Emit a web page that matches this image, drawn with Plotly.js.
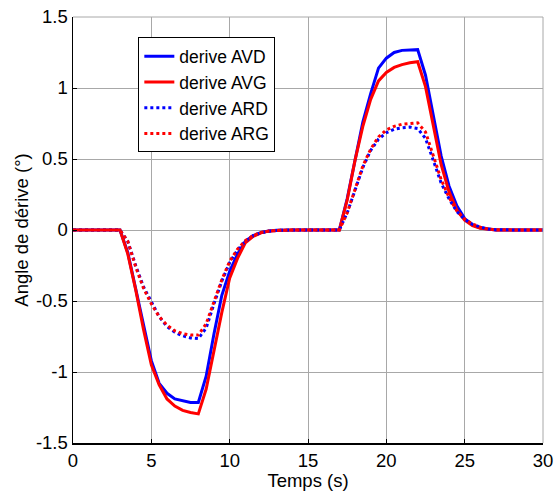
<!DOCTYPE html>
<html>
<head>
<meta charset="utf-8">
<script src="https://cdn.plot.ly/plotly-3.0.1.min.js"></script>
<style>html,body{margin:0;padding:0;background:#fff;}#chart{width:560px;height:491px;}</style>
</head>
<body>
<div id="chart"></div>
<script>
// Time (s), step 0.5 from 0 to 30
const t = [0,0.5,1,1.5,2,2.5,3,3.5,4,4.5,5,5.5,6,6.5,7,7.5,8,8.5,9,9.5,10,10.5,11,11.5,12,12.5,13,13.5,14,14.5,15,15.5,16,16.5,17,17.5,18,18.5,19,19.5,20,20.5,21,21.5,22,22.5,23,23.5,24,24.5,25,25.5,26,26.5,27,27.5,28,28.5,29,29.5,30];

const deriveAVD = [0,0,0,0,0,0,0,-0.16,-0.41,-0.68,-0.92,-1.08,-1.15,-1.19,-1.205,-1.215,-1.215,-1.03,-0.73,-0.46,-0.29,-0.17,-0.08,-0.04,-0.018,-0.007,-0.002,0,0,0,0,0,0,0,0,0.22,0.50,0.76,0.96,1.14,1.21,1.25,1.265,1.27,1.27,1.09,0.80,0.52,0.31,0.17,0.08,0.035,0.014,0.005,0,0,0,0,0,0,0];

const deriveAVG = [0,0,0,0,0,0,0,-0.17,-0.42,-0.70,-0.95,-1.09,-1.19,-1.24,-1.27,-1.285,-1.295,-1.12,-0.85,-0.58,-0.34,-0.20,-0.09,-0.045,-0.02,-0.008,-0.003,0,0,0,0,0,0,0,0,0.21,0.49,0.73,0.92,1.05,1.11,1.145,1.165,1.178,1.185,1.01,0.73,0.46,0.27,0.14,0.07,0.03,0.012,0.004,0,0,0,0,0,0,0];

const deriveARD = [0,0,0,0,0,0,0,-0.08,-0.25,-0.40,-0.51,-0.61,-0.68,-0.72,-0.745,-0.76,-0.765,-0.69,-0.52,-0.36,-0.23,-0.14,-0.08,-0.04,-0.02,-0.008,-0.003,0,0,0,0,0,0,0,0,0.12,0.28,0.44,0.56,0.64,0.685,0.71,0.72,0.725,0.715,0.645,0.49,0.33,0.22,0.13,0.075,0.04,0.02,0.007,0.002,0,0,0,0,0,0];

const deriveARG = [0,0,0,0,0,0,0,-0.08,-0.26,-0.41,-0.52,-0.61,-0.67,-0.71,-0.73,-0.74,-0.74,-0.66,-0.50,-0.35,-0.22,-0.135,-0.075,-0.038,-0.018,-0.007,-0.002,0,0,0,0,0,0,0,0,0.12,0.29,0.45,0.57,0.655,0.705,0.73,0.745,0.752,0.755,0.69,0.52,0.355,0.23,0.135,0.078,0.042,0.02,0.007,0.002,0,0,0,0,0,0];

const seriesNames = ['derive AVD','derive AVG','derive ARD','derive ARG'];
const xTicks = [0,5,10,15,20,25,30];
const yTicks = [-1.5,-1,-0.5,0,0.5,1,1.5];
const yTickText = ['-1.5','-1','-0.5','0','0.5','1','1.5'];

const FONT = 'Liberation Sans, Arial, sans-serif';
const FS = 18.5;
const data = [
  {x:t, y:deriveAVD, name:seriesNames[0], mode:'lines', line:{color:'#0000ff', width:3}},
  {x:t, y:deriveAVG, name:seriesNames[1], mode:'lines', line:{color:'#ff0000', width:3}},
  {x:t, y:deriveARD, name:seriesNames[2], mode:'lines', line:{color:'#0000ff', width:3, dash:'dot'}},
  {x:t, y:deriveARG, name:seriesNames[3], mode:'lines', line:{color:'#ff0000', width:3, dash:'dot'}}
];

const layout = {
  width:560, height:491,
  margin:{l:73, r:17, t:17, b:48},
  paper_bgcolor:'#fff', plot_bgcolor:'#fff',
  font:{family:FONT, size:FS, color:'#000'},
  showlegend:true,
  legend:{x:0.139, y:0.952, xanchor:'left', yanchor:'top', bgcolor:'#fff', bordercolor:'#000', borderwidth:1, font:{family:FONT, size:17.5, color:'#000'}, tracegroupgap:0, itemwidth:30},
  xaxis:{range:[0,30], tickvals:xTicks, ticktext:xTicks.map(String), showgrid:true, gridcolor:'#a8a8a8', gridwidth:1,
    showline:true, linecolor:'#000', linewidth:1.5, ticks:'inside', ticklen:4, tickcolor:'#000', zeroline:false,
    title:{text:'Temps (s)', font:{family:FONT, size:FS}, standoff:0}, tickfont:{family:FONT, size:FS}},
  yaxis:{range:[-1.5,1.5], tickvals:yTicks, ticktext:yTickText, showgrid:true, gridcolor:'#a8a8a8', gridwidth:1,
    showline:true, linecolor:'#000', linewidth:1.5, ticks:'inside', ticklen:4, tickcolor:'#000', zeroline:false,
    title:{text:'Angle de dérive (°)', font:{family:FONT, size:FS}, standoff:2}, tickfont:{family:FONT, size:FS}},
  shapes:[
    {type:'line', xref:'paper', yref:'paper', x0:0, x1:1, y0:1, y1:1, line:{color:'#a8a8a8', width:1}},
    {type:'line', xref:'paper', yref:'paper', x0:1, x1:1, y0:0, y1:1, line:{color:'#a8a8a8', width:1}}
  ]
};

Plotly.newPlot('chart', data, layout, {staticPlot:true, displayModeBar:false});
</script>
</body>
</html>
